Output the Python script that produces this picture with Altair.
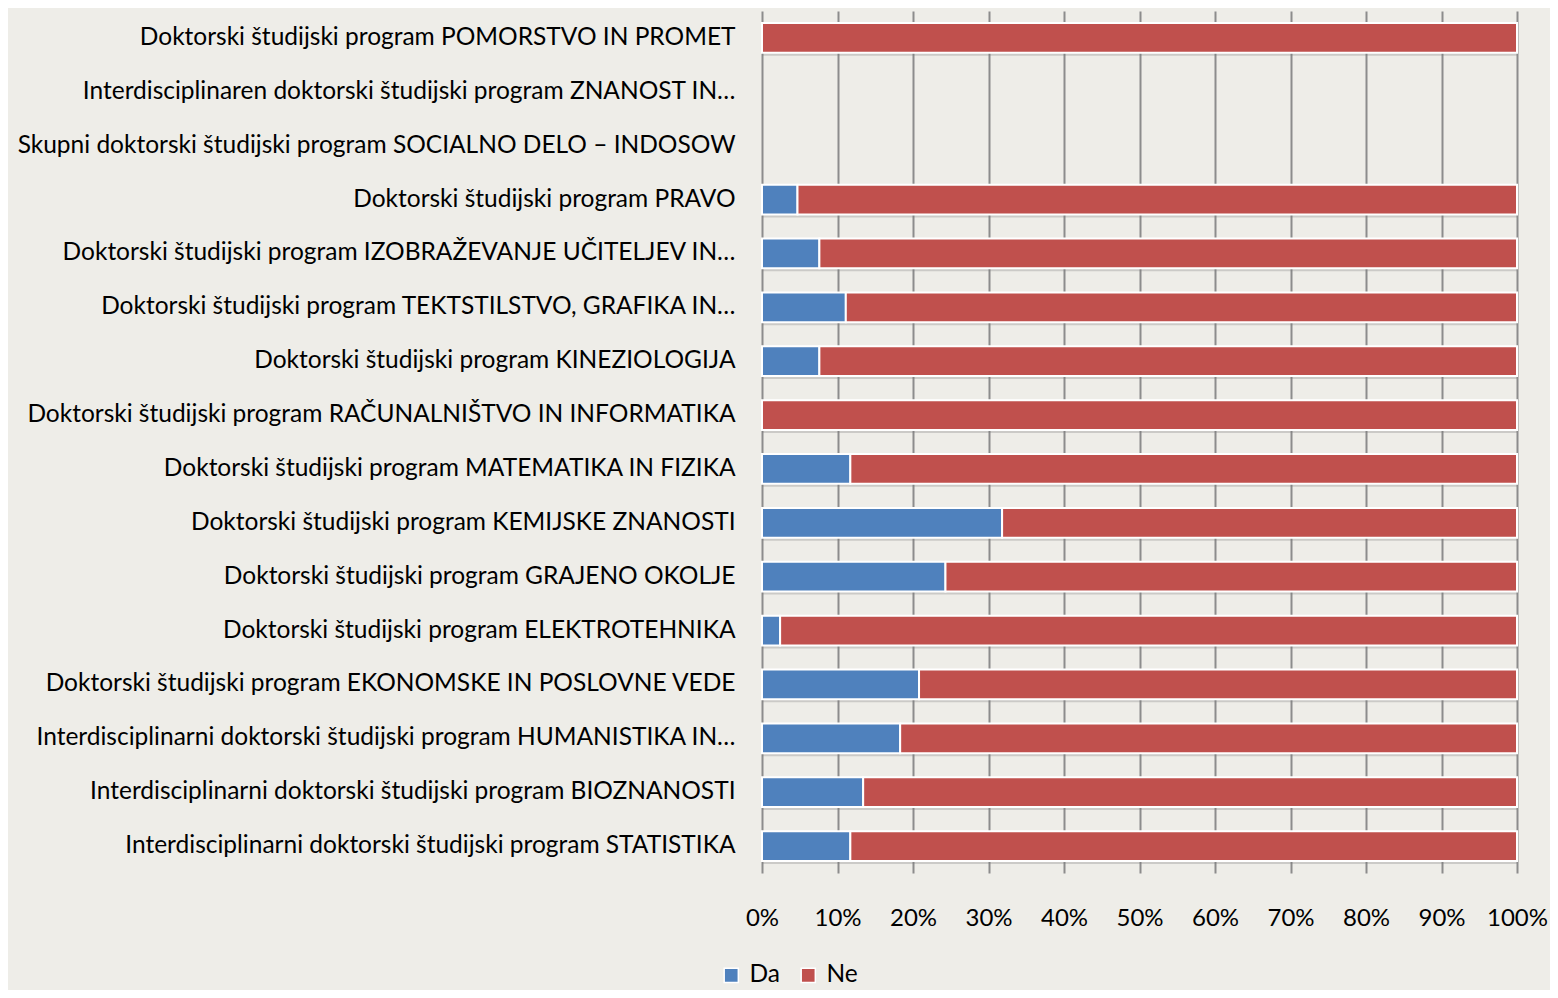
import altair as alt
import pandas as pd

categories = [
    "Doktorski študijski program POMORSTVO IN PROMET",
    "Interdisciplinaren doktorski študijski program ZNANOST IN…",
    "Skupni doktorski študijski program SOCIALNO DELO – INDOSOW",
    "Doktorski študijski program PRAVO",
    "Doktorski študijski program IZOBRAŽEVANJE UČITELJEV IN…",
    "Doktorski študijski program TEKTSTILSTVO, GRAFIKA IN…",
    "Doktorski študijski program KINEZIOLOGIJA",
    "Doktorski študijski program RAČUNALNIŠTVO IN INFORMATIKA",
    "Doktorski študijski program MATEMATIKA IN FIZIKA",
    "Doktorski študijski program KEMIJSKE ZNANOSTI",
    "Doktorski študijski program GRAJENO OKOLJE",
    "Doktorski študijski program ELEKTROTEHNIKA",
    "Doktorski študijski program EKONOMSKE IN POSLOVNE VEDE",
    "Interdisciplinarni doktorski študijski program HUMANISTIKA IN…",
    "Interdisciplinarni doktorski študijski program BIOZNANOSTI",
    "Interdisciplinarni doktorski študijski program STATISTIKA",
]
# percent "Da" (None = no data)
da = [0, None, None, 4.7, 7.6, 11.1, 7.6, 0, 11.7, 31.8, 24.3, 2.4, 20.8, 18.3, 13.4, 11.7]
series = ["Da", "Ne"]
colors = ["#4F81BD", "#C0504D"]

rows = []
shadow_rows = []
for c, d in zip(categories, da):
    if d is None:
        continue
    rows.append({"cat": c, "serie": "Da", "val": d, "ord": 0})
    rows.append({"cat": c, "serie": "Ne", "val": 100 - d, "ord": 1})
    shadow_rows.append({"cat": c, "full": 1.0})
df = pd.DataFrame(rows)
sdf = pd.DataFrame(shadow_rows)

font = "Lato"
fs = 24.5
ysc = alt.Scale(domain=categories, paddingInner=0.45, paddingOuter=0.225)
xsc = alt.Scale(domain=[0, 1])

shadow = alt.Chart(sdf).mark_bar(color="#7a7a7a", opacity=0.3, yOffset=3).encode(
    y=alt.Y("cat:N", scale=ysc, sort=categories, title=None),
    x=alt.X("full:Q", scale=xsc, stack=None),
)

bars = alt.Chart(df).mark_bar(stroke="white", strokeWidth=2).encode(
    y=alt.Y("cat:N", scale=ysc, sort=categories, title=None,
            axis=alt.Axis(domain=False, ticks=False, labelFontSize=fs, labelFont=font,
                          labelColor="#000000", labelPadding=27, labelLimit=800)),
    x=alt.X("val:Q", stack="normalize", title=None, scale=xsc,
            axis=alt.Axis(format="%", values=[i / 10 for i in range(11)], grid=True,
                          gridColor="#8c8c8c", gridWidth=2, domain=False, ticks=False,
                          labelFontSize=fs - 0.5, labelFont=font, labelColor="#000000",
                          labelPadding=33, labelFlush=False)),
    color=alt.Color("serie:N", scale=alt.Scale(domain=series, range=colors),
                    legend=alt.Legend(title=None, orient="none", legendX=-43, legendY=952,
                                      direction="horizontal", symbolType="square",
                                      symbolSize=200, symbolStrokeColor="white",
                                      symbolStrokeWidth=1.5, labelFontSize=fs,
                                      labelFont=font, labelColor="#000000",
                                      labelOffset=6, columnPadding=16, symbolOffset=0)),
    order=alt.Order("ord:Q"),
)

chart = alt.layer(shadow, bars).properties(
    width=755, height=862,
    autosize=alt.AutoSizeParams(type="none"),
    padding={"left": 754, "top": 3, "right": 33, "bottom": 117},
    background="#EEEDE8",
).configure_view(stroke=None)

chart.save("out.html", embed_options={"renderer": "svg", "actions": False})
